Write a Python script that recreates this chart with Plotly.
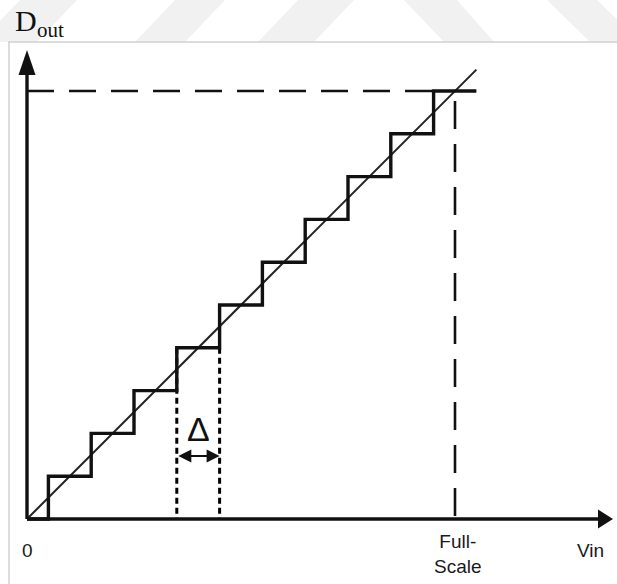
import plotly.graph_objects as go

# ---- data (in units of one LSB, Δ) ----
codes = [0, 1, 2, 3, 4, 5, 6, 7, 8, 9, 10]
transitions = [0.5, 1.5, 2.5, 3.5, 4.5, 5.5, 6.5, 7.5, 8.5, 9.5]
full_scale = 10
ideal_end = 10.5
delta_left, delta_right = 3.5, 4.5
delta_code = 4
x_labels = ["0", "Full-<br>Scale", "Vin"]
y_label_main, y_label_sub = "D", "out"
delta_label = "Δ"

# ---- pixel mapping ----
W, H = 617, 584
OX, OY, U = 27, 519, 42.8
xr = [-OX / U, (W - OX) / U]
yr = [(OY - H) / U, OY / U]

step_x = [0] + transitions + [ideal_end]
step_y = codes + [codes[-1]]

fig = go.Figure()

def px(x):
    return x / W
def py(y):
    return 1 - y / H

# faint watermark bands above the frame
bands = [((20, 77), (-20, 37)), ((175, 225), (135, 185)), ((298, 354), (258, 314)),
         ((404, 457), (444, 494)), ((547, 597), (590, 640))]
for (t0, t1), (b0, b1) in bands:
    path = f"M {px(t0)} {py(0)} L {px(t1)} {py(0)} L {px(b1)} {py(42)} L {px(b0)} {py(42)} Z"
    fig.add_shape(type="path", xref="paper", yref="paper", path=path,
                  fillcolor="#f1f1f1", line=dict(width=0), layer="below")

# frame
fig.add_shape(type="line", xref="paper", yref="paper", x0=px(8), x1=1, y0=py(42), y1=py(42),
              line=dict(color="#d0d0d0", width=1.5))
fig.add_shape(type="line", xref="paper", yref="paper", x0=px(9), x1=px(9), y0=py(42), y1=0,
              line=dict(color="#d0d0d0", width=1.5))

# dashed full-scale lines
fig.add_trace(go.Scatter(x=[0, transitions[-1]], y=[full_scale, full_scale], mode="lines",
                         line=dict(color="#111", width=2.6, dash="27px,15px"), hoverinfo="skip"))
fig.add_trace(go.Scatter(x=[full_scale, full_scale], y=[full_scale - 10 / U, 0], mode="lines",
                         line=dict(color="#111", width=2.6, dash="28px,15px"), hoverinfo="skip"))

# dotted delta lines
for xv in (delta_left, delta_right):
    fig.add_trace(go.Scatter(x=[xv, xv], y=[delta_code, 0], mode="lines",
                             line=dict(color="#000", width=3, dash="6px,4px"), hoverinfo="skip"))

# ideal line
fig.add_trace(go.Scatter(x=[0, ideal_end], y=[0, ideal_end], mode="lines",
                         line=dict(color="#222", width=2), hoverinfo="skip"))

# staircase
fig.add_trace(go.Scatter(x=step_x, y=step_y, mode="lines", line_shape="hv",
                         line=dict(color="#111", width=3.4), hoverinfo="skip"))

# axes
ytip = (OY - 50) / U
xtip = (613 - OX) / U
fig.add_shape(type="line", x0=0, x1=0, y0=0, y1=ytip - 20 / U, line=dict(color="#111", width=3.4))
fig.add_shape(type="line", x0=0, x1=xtip - 10 / U, y0=0, y1=0, line=dict(color="#111", width=3.4))
fig.add_shape(type="path",
              path=f"M 0 {ytip} L {8.5 / U} {ytip - 25 / U} L {-8.5 / U} {ytip - 25 / U} Z",
              fillcolor="#111", line=dict(width=0))
fig.add_shape(type="path",
              path=f"M {xtip} 0 L {xtip - 15 / U} {9.5 / U} L {xtip - 15 / U} {-9.5 / U} Z",
              fillcolor="#111", line=dict(width=0))

# delta arrow
ya = (OY - 456) / U
fig.add_annotation(x=delta_right, y=ya, ax=delta_left, ay=ya, xref="x", yref="y", axref="x", ayref="y",
                   showarrow=True, arrowhead=2, arrowside="end+start", arrowsize=1.3, arrowwidth=2,
                   arrowcolor="#111", text="", standoff=0, startstandoff=0)
fig.add_annotation(x=(delta_left + delta_right) / 2, y=(OY - 429) / U, text=delta_label, showarrow=False,
                   font=dict(family="Liberation Sans, Arial", size=34, color="#111"))

# labels
lab_font = dict(family="Liberation Sans, Arial", size=19, color="#1a1a1a")
fig.add_annotation(x=0, y=(OY - 550) / U, text=x_labels[0], showarrow=False, font=lab_font)
fig.add_annotation(x=full_scale + 3 / U, y=(OY - 554) / U, text=x_labels[1], showarrow=False, font=lab_font)
fig.add_annotation(x=(590 - OX) / U, y=(OY - 550) / U, text=x_labels[2], showarrow=False, font=lab_font)
serif = "Liberation Serif, Times New Roman"
fig.add_annotation(xref="paper", yref="paper", x=px(13), y=py(20), xanchor="left", yanchor="middle",
                   text=y_label_main, showarrow=False, font=dict(family=serif, size=30, color="#111"))
fig.add_annotation(xref="paper", yref="paper", x=px(35), y=py(30), xanchor="left", yanchor="middle",
                   text=y_label_sub, showarrow=False, font=dict(family=serif, size=21, color="#111"))

fig.update_layout(width=W, height=H, autosize=False, margin=dict(l=0, r=0, t=0, b=0),
                  paper_bgcolor="white", plot_bgcolor="white", showlegend=False,
                  xaxis=dict(range=xr, visible=False, fixedrange=True),
                  yaxis=dict(range=yr, visible=False, fixedrange=True))

fig.write_html("out.html", config={"displayModeBar": False},
               post_script="document.body.style.margin='0';document.body.style.overflow='hidden';")
